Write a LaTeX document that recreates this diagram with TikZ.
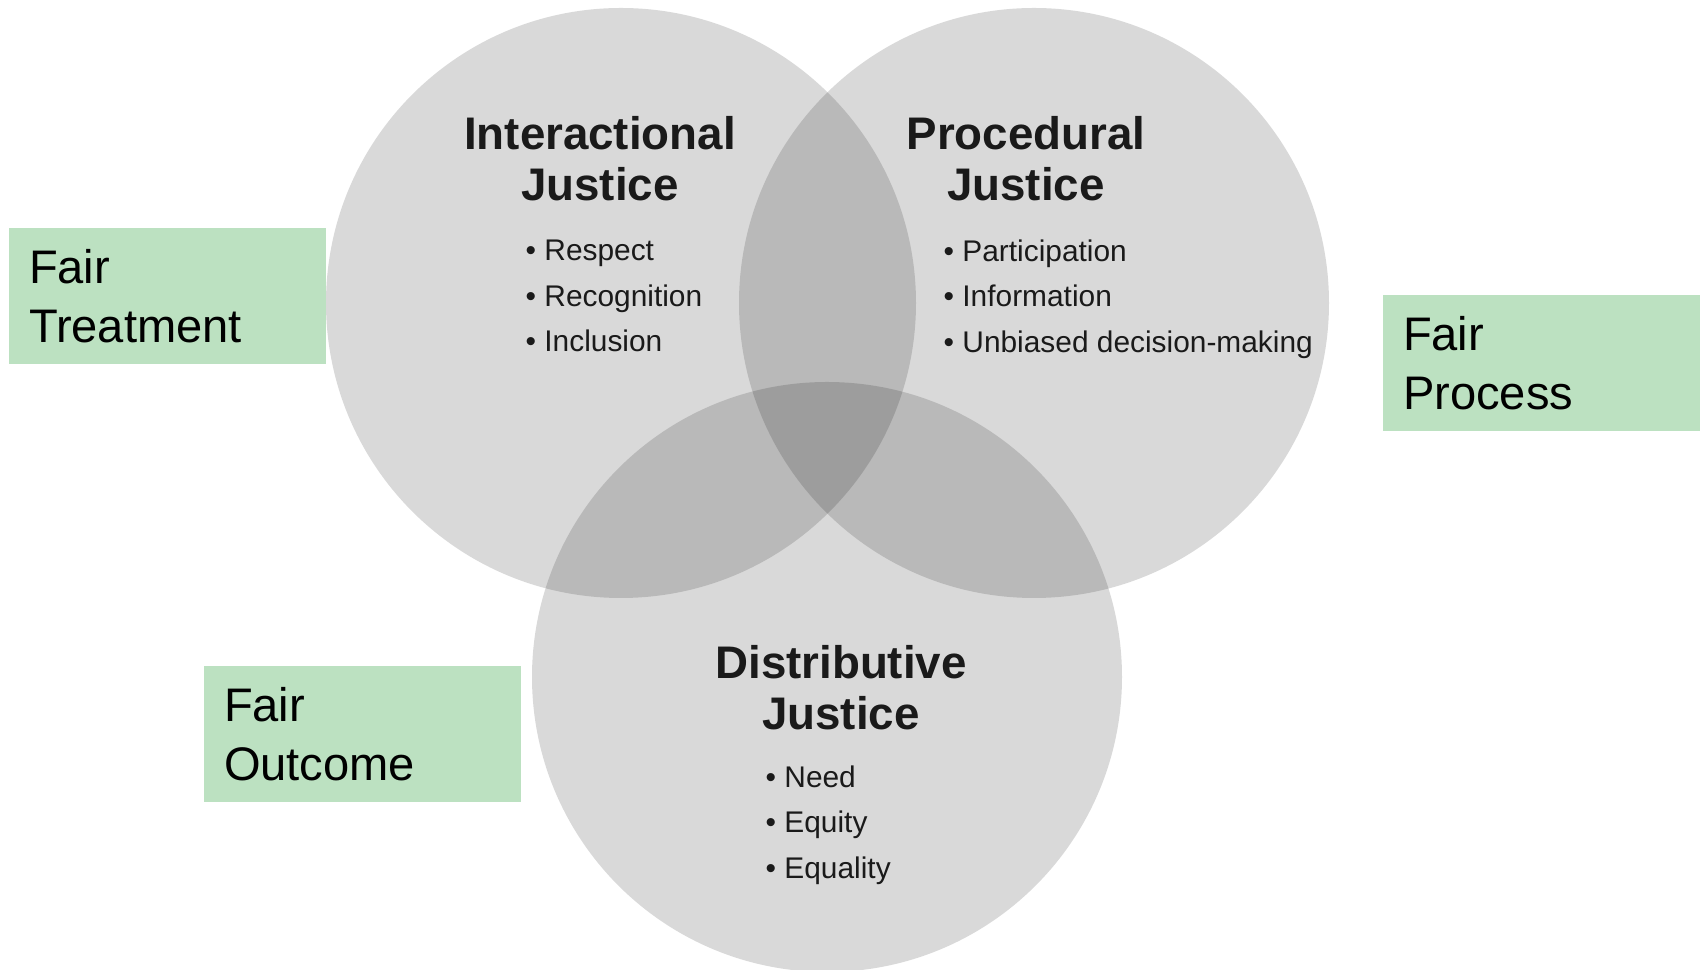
\documentclass[tikz,border=0pt]{standalone}
\usepackage{fontspec}
\setmainfont{Liberation Sans}
\definecolor{fairgreen}{RGB}{188,225,193}
\definecolor{inkgray}{RGB}{26,26,26}

\begin{document}
\begin{tikzpicture}[
        justice/.style={circle,draw=none,fill=black,fill opacity=0.15,minimum size=5.9cm,inner sep=0pt},
        heading/.style={align=center,inner sep=0pt,text=inkgray,font=\bfseries\fontsize{13}{14.5}\selectfont},
        items/.style={align=left,inner sep=0pt,anchor=west,text=inkgray,font=\fontsize{8.5}{13}\selectfont},
        fair/.style={rectangle,fill=fairgreen,minimum width=3.17cm,minimum height=1.36cm,inner xsep=0.2cm,inner ysep=0pt,text width=2.77cm,align=left,font=\fontsize{13.4}{16.7}\selectfont}]
    \useasboundingbox (0,0) rectangle (17.02,9.70);
        \node[justice] (inter) at (6.21,6.67) {};
        \node[justice] (proc) at (10.34,6.67) {};
        \node[justice] (distr) at (8.27,2.93) {};

        \node[heading] (interhead) at (6.00,8.115) {Interactional\\Justice};
        \node[items] (interlist) at (5.25,6.74) {• Respect\\• Recognition\\• Inclusion};
        \node[heading] (prochead) at (10.26,8.115) {Procedural\\Justice};
        \node[items] (proclist) at (9.43,6.71) {• Participation\\• Information\\• Unbiased decision-making};
        \node[heading] (distrhead) at (8.41,2.82) {Distributive\\Justice};
        \node[items] (distrlist) at (7.65,1.45) {• Need\\• Equity\\• Equality};

        \node[fair] (treatment) at (1.675,6.74) {Fair\\Treatment};
        \node[fair] (process) at (15.415,6.07) {Fair\\Process};
        \node[fair] (outcome) at (3.625,2.355) {Fair\\Outcome};
    \end{tikzpicture}
\end{document}
